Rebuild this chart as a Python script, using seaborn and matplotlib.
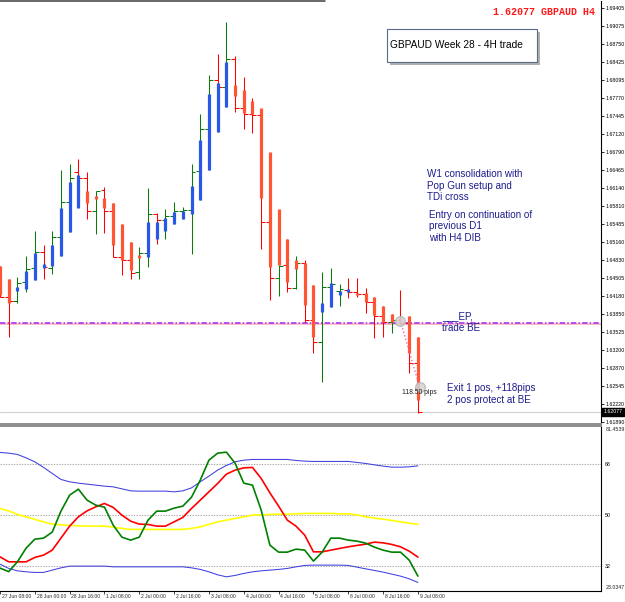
import matplotlib
matplotlib.use("Agg")
import numpy as np
import pandas as pd
import matplotlib.pyplot as plt
import matplotlib.transforms as mtrans
from matplotlib.patches import Rectangle
from matplotlib.lines import Line2D
import seaborn as sns

sns.set_style("white")
plt.rcParams['font.family'] = ['Liberation Sans', 'DejaVu Sans']

# %% — Data (GBPAUD H4, 27 Jun 08:00 -> 9 Jul 08:00)
date_labels = ["27 Jun 08:00", "28 Jun 00:00", "28 Jun 16:00", "1 Jul 08:00",
               "2 Jul 00:00", "2 Jul 16:00", "3 Jul 08:00", "4 Jul 00:00",
               "4 Jul 16:00", "5 Jul 08:00", "8 Jul 00:00", "8 Jul 16:00",
               "9 Jul 08:00"]

opens  = [1.64688, 1.64162, 1.64090, 1.64435, 1.64688, 1.64979, 1.64688, 1.65251,
          1.65886, 1.66430, 1.66321, 1.65722, 1.66103, 1.65722, 1.64888, 1.64834,
          1.64616, 1.64961, 1.65668, 1.65559, 1.65632, 1.65722, 1.65741, 1.66448,
          1.67210, 1.68099, 1.67972, 1.68480, 1.67591, 1.67482, 1.67464, 1.65523,
          1.64507, 1.64743, 1.64326, 1.64779, 1.63745, 1.63346, 1.64344, 1.64271,
          1.64289, 1.64253, 1.64217, 1.64072, 1.63818, 1.63709, 1.63745, 1.63691,
          1.62965]
highs  = [1.64725, 1.64489, 1.64525, 1.64906, 1.65360, 1.65106, 1.65360, 1.66466,
          1.66575, 1.66666, 1.66430, 1.66085, 1.66158, 1.65868, 1.65487, 1.65160,
          1.65069, 1.66140, 1.65686, 1.65759, 1.65886, 1.65795, 1.66575, 1.67482,
          1.68189, 1.68570, 1.69151, 1.68534, 1.68153, 1.67772, 1.67555, 1.65650,
          1.64743, 1.65215, 1.64906, 1.64834, 1.64380, 1.64616, 1.64688, 1.64398,
          1.64507, 1.64507, 1.64326, 1.64162, 1.63999, 1.63854, 1.64289, 1.63818,
          1.63437]
lows   = [1.64162, 1.63437, 1.64054, 1.64253, 1.64471, 1.64489, 1.64580, 1.64906,
          1.65342, 1.65795, 1.65577, 1.65305, 1.65323, 1.64888, 1.64561, 1.64489,
          1.64489, 1.64707, 1.65124, 1.65215, 1.65487, 1.65577, 1.64942, 1.65922,
          1.66466, 1.67156, 1.67609, 1.67518, 1.67210, 1.67137, 1.65033, 1.64108,
          1.64181, 1.64253, 1.64308, 1.63709, 1.63147, 1.62621, 1.63981, 1.63999,
          1.64144, 1.64162, 1.63872, 1.63419, 1.63437, 1.63509, 1.63654, 1.62784,
          1.62058]
closes = [1.64162, 1.64090, 1.64416, 1.64670, 1.64979, 1.64707, 1.65251, 1.65886,
          1.66321, 1.66321, 1.65722, 1.66085, 1.65722, 1.64888, 1.64834, 1.64598,
          1.64961, 1.65668, 1.65559, 1.65632, 1.65722, 1.65741, 1.66430, 1.67210,
          1.68099, 1.67972, 1.68480, 1.67591, 1.67482, 1.67464, 1.65523, 1.64507,
          1.64725, 1.64326, 1.64779, 1.63745, 1.63346, 1.64344, 1.64398, 1.64308,
          1.64253, 1.64217, 1.64072, 1.63818, 1.63709, 1.63745, 1.63691, 1.62965,
          1.62077]
# Heiken Ashi bodies
ha_open  = [1.64725, 1.64489, 1.64271, 1.64308, 1.64471, 1.64688, 1.64725, 1.64906,
            1.65342, 1.65777, 1.66085, 1.65995, 1.65958, 1.65868, 1.65487, 1.65160,
            1.64924, 1.64888, 1.65215, 1.65360, 1.65487, 1.65577, 1.65668, 1.65922,
            1.66466, 1.67156, 1.67609, 1.68008, 1.67917, 1.67718, 1.67591, 1.66793,
            1.65759, 1.65215, 1.64834, 1.64779, 1.64380, 1.63890, 1.63981, 1.64199,
            1.64253, 1.64235, 1.64235, 1.64162, 1.63999, 1.63854, 1.63781, 1.63818,
            1.63437]
ha_close = [1.64199, 1.64054, 1.64344, 1.64634, 1.64961, 1.64761, 1.65106, 1.65777,
            1.66249, 1.66375, 1.65868, 1.65940, 1.65777, 1.65106, 1.64834, 1.64652,
            1.64870, 1.65523, 1.65523, 1.65595, 1.65704, 1.65722, 1.66176, 1.67010,
            1.67845, 1.68044, 1.68425, 1.67809, 1.67500, 1.67482, 1.65958, 1.64707,
            1.64743, 1.64435, 1.64670, 1.64017, 1.63437, 1.64054, 1.64416, 1.64271,
            1.64308, 1.64199, 1.64072, 1.63836, 1.63709, 1.63709, 1.63709, 1.63147,
            1.62294]

# TDI sub-window
tdi_upper  = [72.20, 71.95, 71.49, 70.28, 68.87, 66.89, 64.76, 62.64, 61.79, 61.33,
              60.97, 60.62, 60.27, 60.02, 59.31, 58.60, 58.50, 58.50, 58.50, 58.50,
              58.25, 58.60, 59.66, 61.79, 63.81, 65.93, 67.59, 68.87, 69.47, 69.72,
              69.72, 69.72, 69.72, 69.72, 69.36, 69.12, 69.01, 69.01, 69.01, 69.01,
              69.01, 68.66, 68.30, 67.81, 67.35, 66.99, 66.99, 67.10, 67.45]
tdi_lower  = [32.65, 31.13, 30.28, 29.93, 29.72, 29.72, 30.53, 31.34, 31.95, 31.95,
              31.95, 31.95, 31.95, 31.70, 31.70, 31.70, 31.70, 31.70, 31.70, 31.70,
              31.70, 31.70, 31.34, 30.78, 29.93, 28.87, 28.16, 28.65, 29.36, 29.93,
              30.28, 30.53, 30.78, 31.13, 31.70, 32.19, 32.30, 32.30, 32.30, 32.30,
              32.19, 31.59, 30.99, 30.42, 29.82, 29.11, 28.41, 27.45, 26.18]
tdi_base   = [52.37, 51.52, 50.25, 49.40, 48.48, 47.63, 46.81, 46.57, 46.35, 46.21,
              46.11, 46.11, 46.11, 45.75, 45.29, 44.94, 44.94, 44.94, 44.94, 44.94,
              44.94, 44.94, 45.29, 45.86, 46.71, 47.63, 48.23, 48.83, 49.40, 50.00,
              50.11, 50.25, 50.35, 50.35, 50.46, 50.60, 50.60, 50.60, 50.60, 50.46,
              50.46, 50.11, 49.40, 48.94, 48.58, 48.12, 47.63, 47.17, 46.71]
tdi_rsi    = [31.24, 30.00, 33.47, 38.32, 41.50, 41.86, 43.98, 51.42, 57.08, 59.20,
              55.31, 53.54, 52.83, 46.46, 42.21, 41.15, 42.21, 48.23, 51.42, 51.42,
              52.48, 53.19, 56.37, 62.39, 69.47, 71.95, 72.30, 68.41, 61.33, 60.62,
              51.77, 39.38, 36.90, 36.90, 37.96, 37.61, 33.72, 36.90, 41.86, 41.86,
              41.15, 40.80, 40.09, 38.67, 37.61, 36.90, 36.90, 34.07, 28.41]
tdi_signal = [35.24, 33.47, 33.47, 33.47, 35.03, 35.84, 37.61, 41.86, 46.11, 49.40,
              51.52, 52.94, 54.14, 52.73, 50.00, 47.88, 46.81, 46.71, 46.11, 46.11,
              47.63, 49.19, 52.37, 55.31, 58.25, 61.22, 64.51, 65.93, 66.74, 66.89,
              62.99, 57.89, 53.19, 48.23, 46.11, 42.92, 37.01, 37.01, 37.61, 38.21,
              38.78, 39.27, 39.73, 40.44, 40.19, 39.63, 38.78, 37.26, 35.13]

price_ticks = [1.69405, 1.69075, 1.68750, 1.68425, 1.68095, 1.67770, 1.67445,
               1.67120, 1.66790, 1.66465, 1.66140, 1.65810, 1.65485, 1.65160,
               1.64830, 1.64505, 1.64180, 1.63850, 1.63525, 1.63200, 1.62870,
               1.62545, 1.62220, 1.61890]
tdi_levels = [32, 50, 68]
tdi_min, tdi_max = 23.0347, 81.4539

ep_price = 1.6369
trade_open = (46, 1.63727)
trade_close = (48.2, 1.62530)
pips_label = "118.50 pips"

# %% — Layout helpers (pixel -> figure fraction)
W, H = 625, 602
def fx(px): return px / W
def fy(py): return 1 - py / H

fig = plt.figure(figsize=(W / 100, H / 100), dpi=100)
fig.patch.set_facecolor("white")

ax = fig.add_axes([0, fy(424), fx(601), fy(1) - fy(424)])
axi = fig.add_axes([0, fy(591.3), fx(601), fy(426.3) - fy(591.3)], sharex=ax)

idx = np.arange(len(opens))
o, h, l, c = map(np.array, (opens, highs, lows, closes))
hao, hac = np.array(ha_open), np.array(ha_close)

# %% — Price pane
up = c >= o
wick_col = np.where(up, "#0a7a0a", "#ff0000")
ax.vlines(idx, l, h, colors=wick_col, lw=0.75, zorder=2)
ax.hlines(o, idx - 0.45, idx, colors=wick_col, lw=0.75, zorder=2)
ax.hlines(c, idx, idx + 0.45, colors=wick_col, lw=0.75, zorder=2)

body_col = np.where(hac >= hao, "#2a58e6", "#ff5533")
ax.vlines(idx, np.minimum(hao, hac), np.maximum(hao, hac),
          colors=body_col, lw=2.3, zorder=3)

# bid line and entry line
ax.axhline(c[-1], color="#d2d2d2", lw=0.8, zorder=1)
ax.axhline(ep_price - 0.0001, color="#f6b8c0", lw=1.3, zorder=1)
ax.axhline(ep_price, color="#b040f0", lw=1.3, ls=(0, (3, 1.2, 0.8, 1.2)), zorder=1)

# trade markers
ax.plot([trade_open[0], trade_close[0]], [trade_open[1], trade_close[1]],
        color="#ff5fa8", ls=":", lw=1.0, zorder=4)
ax.plot([trade_open[0], trade_close[0]], [trade_open[1], trade_close[1]], "o",
        ms=7, mfc="#d4d4d4", mec="#b8b8b8", alpha=0.85, zorder=5)
ax.text(trade_close[0], trade_close[1] - 0.00091, pips_label, fontsize=4.9,
        color="#202020", ha="center", va="center", zorder=6)

ax.set_xlim(0.11, 69.03)
ax.set_ylim(1.61859, 1.69532)
ax.yaxis.tick_right()
ax.set_yticks(price_ticks)
ax.set_yticklabels([f"{v:.5f}" for v in price_ticks])
ax.tick_params(axis="y", labelsize=3.8, length=2, width=0.6, pad=1.5,
               colors="black")
ax.tick_params(axis="x", bottom=False, labelbottom=False)
for s in ("top", "left"):
    ax.spines[s].set_visible(False)
ax.spines["right"].set_color("black")
ax.spines["right"].set_linewidth(0.8)
ax.spines["bottom"].set_color("#8c8c8c")
ax.spines["bottom"].set_linewidth(1.4)

tr = mtrans.blended_transform_factory(ax.transAxes, ax.transData)
ax.text(1.004, c[-1], f"{c[-1]:.5f}", transform=tr, fontsize=3.8,
        color="white", ha="left", va="center",
        bbox=dict(boxstyle="square,pad=0.25", fc="black", ec="black"))

# annotations
note_col = "#1c1c8e"
for txt, xb, yp in [("W1 consolidation with", 49.08, 1.66394),
                    ("Pop Gun setup and", 49.08, 1.66176),
                    ("TDi cross", 49.08, 1.65976),
                    ("Entry on continuation of", 49.31, 1.65650),
                    ("previous D1", 49.31, 1.65450),
                    ("with H4 DIB", 49.31, 1.65233),
                    ("___EP,", 50.80, 1.63818),
                    ("trade BE", 50.80, 1.63600),
                    ("Exit 1 pos, +118pips", 51.37, 1.62512),
                    ("2 pos protect at BE", 51.37, 1.62294)]:
    ax.text(xb, yp, txt, fontsize=7.1, color=note_col, ha="left", va="center")

# %% — TDI pane
ind = pd.DataFrame({"bar": idx, "upper": tdi_upper, "lower": tdi_lower,
                    "base": tdi_base, "rsi": tdi_rsi, "signal": tdi_signal})
for lv in tdi_levels:
    axi.axhline(lv, color="#a8a8a8", lw=0.8, ls=(0, (1.2, 1.2)), zorder=1)
sns.lineplot(data=ind, x="bar", y="upper", ax=axi, color="#3f3fe0", lw=0.75)
sns.lineplot(data=ind, x="bar", y="lower", ax=axi, color="#3f3fe0", lw=0.75)
sns.lineplot(data=ind, x="bar", y="base", ax=axi, color="#ffff00", lw=1.2)
sns.lineplot(data=ind, x="bar", y="signal", ax=axi, color="#ff0000", lw=1.2)
sns.lineplot(data=ind, x="bar", y="rsi", ax=axi, color="#008000", lw=1.2)

axi.set_ylim(tdi_min, tdi_max)
axi.set_xlabel("")
axi.set_ylabel("")
axi.yaxis.tick_right()
axi.set_yticks(tdi_levels)
axi.set_yticklabels([str(v) for v in tdi_levels])
axi.tick_params(axis="y", labelsize=3.8, length=0, pad=3, colors="black")
tick_pos = np.arange(0, len(opens), 4)
axi.set_xticks(tick_pos)
axi.set_xticklabels([])
axi.tick_params(axis="x", bottom=True, direction="out", length=2, width=0.6)
axi.spines["left"].set_visible(False)
axi.spines["top"].set_color("#8c8c8c")
axi.spines["top"].set_linewidth(1.4)
for s in ("right", "bottom"):
    axi.spines[s].set_color("black")
    axi.spines[s].set_linewidth(0.8)

tri = mtrans.blended_transform_factory(axi.transAxes, axi.transData)
axi.text(1.008, tdi_max - 1.1, f"{tdi_max:.4f}", transform=tri, fontsize=3.8,
         ha="left", va="center")
axi.text(1.008, tdi_min + 1.2, f"{tdi_min:.4f}", transform=tri, fontsize=3.8,
         ha="left", va="center")

trx = mtrans.blended_transform_factory(axi.transData, axi.transAxes)
for pos, lab in zip(tick_pos, date_labels):
    axi.text(pos + 0.2, -0.015, lab, transform=trx, fontsize=3.6,
             ha="left", va="top", clip_on=False)

# %% — Title block, header and frame
fig.text(fx(595), fy(12), f"{c[-1]:.5f} GBPAUD H4", ha="right", va="center",
         fontsize=7.2, family="Liberation Mono", weight="bold", color="#ff1a1a")

fig.add_artist(Rectangle((fx(390), fy(64.5)), fx(150), fy(32) - fy(65),
                         transform=fig.transFigure, fc="#b0b0b0", ec="none"))
fig.add_artist(Rectangle((fx(387), fy(62)), fx(150), fy(29) - fy(62),
                         transform=fig.transFigure, fc="white", ec="#5a6a8a",
                         lw=0.8))
fig.text(fx(389.5), fy(45.5), "GBPAUD Week 28 - 4H trade", ha="left",
         va="center", fontsize=7.3, color="black")

fig.add_artist(Line2D([0, fx(325)], [fy(0.6), fy(0.6)], color="#404040",
                      lw=1.1, transform=fig.transFigure))

fig.savefig("out.png", dpi=100, facecolor="white")
